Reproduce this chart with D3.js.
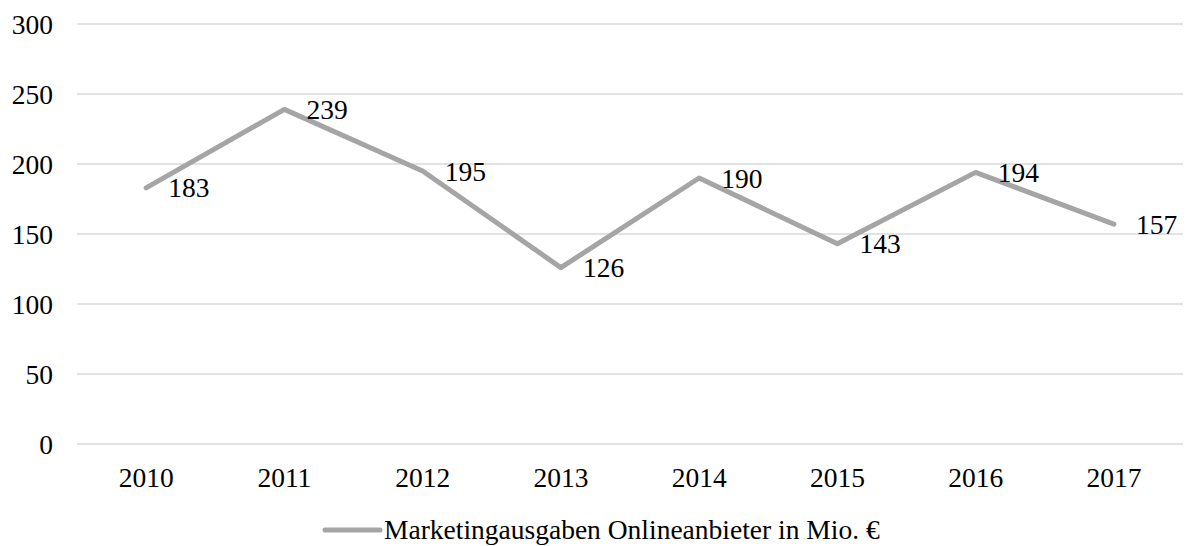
<!DOCTYPE html>
<html>
<head>
<meta charset="utf-8">
<script src="https://cdn.jsdelivr.net/npm/d3@7"></script>
<style>
  body { margin: 0; background: #fff; }
  text { font-family: "Liberation Serif", "Times New Roman", serif; fill: #000; }
</style>
</head>
<body>
<div id="chart-area"></div>
<script>
var years = ["2010", "2011", "2012", "2013", "2014", "2015", "2016", "2017"];
var values = [183, 239, 195, 126, 190, 143, 194, 157];
var yTicks = [0, 50, 100, 150, 200, 250, 300];
var seriesName = "Marketingausgaben Onlineanbieter in Mio. €";

var width = 1186;
var height = 546;
var margin = {top: 24, right: 3, bottom: 102, left: 77};
var fontSize = "27.5px";

var svg = d3.select("#chart-area").append("svg")
	.attr("width", width)
	.attr("height", height);

var x = d3.scaleBand()
	.domain(years)
	.range([margin.left, width - margin.right]);

var y = d3.scaleLinear()
	.domain([0, 300])
	.range([height - margin.bottom, margin.top]);

// gridlines
svg.append("g").selectAll("line").data(yTicks).enter()
	.append("line")
	.attr("x1", margin.left)
	.attr("x2", width - margin.right)
	.attr("y1", (d)=>{return y(d);})
	.attr("y2", (d)=>{return y(d);})
	.attr("stroke", "#d9d9d9")
	.attr("stroke-width", 1.5);

// y tick labels
svg.append("g").selectAll("text").data(yTicks).enter()
	.append("text")
	.attr("x", 53)
	.attr("y", (d)=>{return y(d);})
	.attr("dy", "0.35em")
	.attr("text-anchor", "end")
	.attr("font-size", fontSize)
	.text((d)=>{return d;});

// x tick labels
svg.append("g").selectAll("text").data(years).enter()
	.append("text")
	.attr("x", (d)=>{return x(d) + x.bandwidth() / 2;})
	.attr("y", 477)
	.attr("dy", "0.35em")
	.attr("text-anchor", "middle")
	.attr("font-size", fontSize)
	.text((d)=>{return d;});

var line = d3.line()
	.x((d, i)=>{return x(years[i]) + x.bandwidth() / 2;})
	.y((d)=>{return y(d);});

svg.append("path")
	.datum(values)
	.attr("d", line)
	.attr("fill", "none")
	.attr("stroke", "#a5a5a5")
	.attr("stroke-width", 5)
	.attr("stroke-linejoin", "round")
	.attr("stroke-linecap", "round");

// data labels to the right of each point
svg.append("g").selectAll("text").data(values).enter()
	.append("text")
	.attr("x", (d, i)=>{return x(years[i]) + x.bandwidth() / 2 + 22;})
	.attr("y", (d)=>{return y(d);})
	.attr("dy", "0.35em")
	.attr("font-size", fontSize)
	.text((d)=>{return d;});

// legend
var legend = svg.append("g");
legend.append("line")
	.attr("x1", 325)
	.attr("x2", 380)
	.attr("y1", 530)
	.attr("y2", 530)
	.attr("stroke", "#a5a5a5")
	.attr("stroke-width", 5)
	.attr("stroke-linecap", "round");
legend.append("text")
	.attr("x", 384)
	.attr("y", 529)
	.attr("dy", "0.35em")
	.attr("font-size", fontSize)
	.text(seriesName);
</script>
</body>
</html>
